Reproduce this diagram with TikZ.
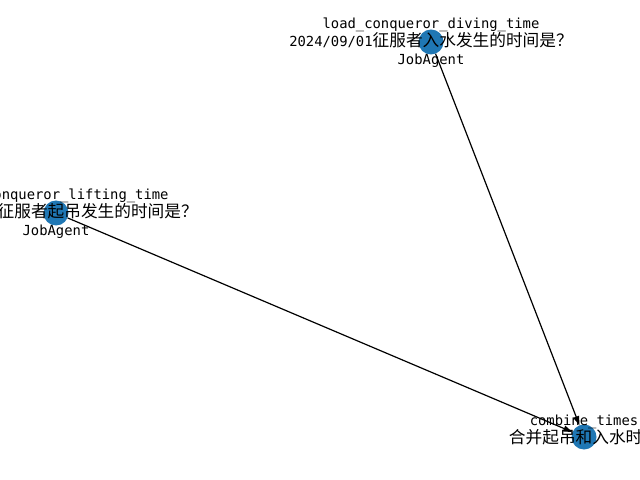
\documentclass[tikz,border=0pt]{standalone}
\usepackage{fontspec}
\setmainfont{DejaVu Sans Mono}
\newfontfamily\cjk{Noto Sans CJK SC}[Scale=1.2036]
\usetikzlibrary{arrows.meta}
\definecolor{nodeblue}{HTML}{1F77B4}
\tikzset{
  gnode/.style={circle, fill=nodeblue, draw=none, minimum size=25bp, inner sep=0pt},
  glabel/.style={align=center, inner sep=0pt, font=\fontsize{13.85bp}{18bp}\selectfont, text=black},
  gedge/.style={-{Triangle[length=9bp,width=6bp]}, line width=1.2bp, black}
}
\begin{document}
\begin{tikzpicture}[x=1bp, y=-1bp]
\useasboundingbox (0,0) rectangle (640,480);
\clip (0,0) rectangle (640,480);
\fill[white] (0,0) rectangle (640,480);
\node[gnode] (top) at (431,42) {};
\node[gnode] (left) at (56,213) {};
\node[gnode] (comb) at (584,437) {};
\draw[gedge] (top) -- (comb);
\draw[gedge] (left) -- (comb);
\node[glabel] (ltop) at (431,43) {load\_conqueror\_diving\_time\\2024/09/01{\cjk 征服者入水发生的时间是？}\\JobAgent};
\node[glabel] (lleft) at (56,214) {load\_conqueror\_lifting\_time\\2024/09/01{\cjk 征服者起吊发生的时间是？}\\JobAgent};
\node[glabel] (lcomb) at (584,441) {combine\_times\\{\cjk 合并起吊和入水时间}\\\strut};
\end{tikzpicture}
\end{document}
